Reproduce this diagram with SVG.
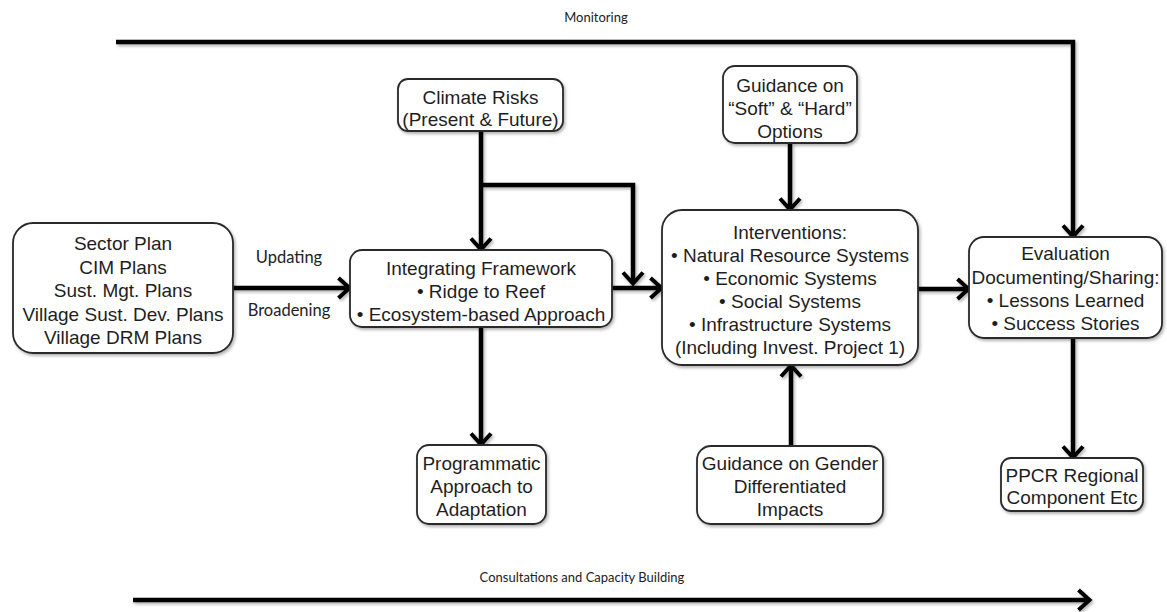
<svg xmlns="http://www.w3.org/2000/svg" width="1167" height="612" viewBox="0 0 1167 612">
<style>
.box{fill:#fff;stroke:#2a2a2a;stroke-width:1.8;filter:url(#sh)}
.t{font-family:"Liberation Sans",Arial,sans-serif;font-size:19px;fill:#1e1e1e;text-anchor:middle}
.lbl{font-family:Lato,"Liberation Sans",sans-serif;font-size:13px;fill:#222;text-anchor:middle}
.lbl2{font-family:Lato,"Liberation Sans",sans-serif;font-size:16.5px;fill:#222;text-anchor:middle}
.c{fill:none;stroke:#000;stroke-width:4.5;marker-end:url(#ah)}
</style>
<defs>
<filter id="sh" x="-10%" y="-10%" width="130%" height="140%">
<feDropShadow dx="1.5" dy="2" stdDeviation="1.5" flood-color="#000" flood-opacity="0.3"/>
</filter>
<marker id="ah" viewBox="0 0 16 24" refX="12.5" refY="12" markerWidth="16" markerHeight="24" markerUnits="userSpaceOnUse" orient="auto" overflow="visible">
<path d="M2,2 L13,12 L2,22" fill="none" stroke="#000" stroke-width="4"/>
</marker>
</defs>
<rect width="1167" height="612" fill="#fff"/>
<g id="connectors" filter="url(#sh)">
<path class="c" d="M116,42 H1073 V236"/>
<path class="c" d="M233,288 H349"/>
<path class="c" d="M481,131 V249"/>
<path class="c" d="M481,185 H633 V283"/>
<path class="c" d="M612,288 H661"/>
<path class="c" d="M790,143 V209"/>
<path class="c" d="M791,446 V366"/>
<path class="c" d="M481,327 V444"/>
<path class="c" d="M918,289 H968"/>
<path class="c" d="M1073,338 V457"/>
<path class="c" d="M133,600 H1089"/>
</g>
<g id="labels">
<text class="lbl" x="596" y="22">Monitoring</text>
<text class="lbl2" x="289" y="263">Updating</text>
<text class="lbl2" x="289" y="316">Broadening</text>
<text class="lbl" x="582" y="582">Consultations and Capacity Building</text>
</g>
<g id="sector">
<rect class="box" x="13" y="223" width="220" height="130" rx="20"/>
<text class="t" x="123" y="250">Sector Plan</text>
<text class="t" x="123" y="273.5">CIM Plans</text>
<text class="t" x="123" y="297">Sust. Mgt. Plans</text>
<text class="t" x="123" y="320.5">Village Sust. Dev. Plans</text>
<text class="t" x="123" y="344">Village DRM Plans</text>
</g>
<g id="climate">
<rect class="box" x="398" y="79" width="165" height="52" rx="10"/>
<text class="t" x="480.5" y="104">Climate Risks</text>
<text class="t" x="480.5" y="126">(Present &amp; Future)</text>
</g>
<g id="integrating">
<rect class="box" x="350" y="250" width="262" height="77" rx="12"/>
<text class="t" x="481" y="275">Integrating Framework</text>
<text class="t" x="481" y="298">• Ridge to Reef</text>
<text class="t" x="481" y="321">• Ecosystem-based Approach</text>
</g>
<g id="guidance-soft-hard">
<rect class="box" x="723" y="66" width="134" height="77" rx="12"/>
<text class="t" x="790" y="92">Guidance on</text>
<text class="t" x="790" y="115">“Soft” &amp; “Hard”</text>
<text class="t" x="790" y="138">Options</text>
</g>
<g id="interventions">
<rect class="box" x="662" y="210" width="256" height="155" rx="20"/>
<text class="t" x="790" y="239">Interventions:</text>
<text class="t" x="790" y="262">• Natural Resource Systems</text>
<text class="t" x="790" y="285">• Economic Systems</text>
<text class="t" x="790" y="308">• Social Systems</text>
<text class="t" x="790" y="331">• Infrastructure Systems</text>
<text class="t" x="790" y="354">(Including Invest. Project 1)</text>
</g>
<g id="evaluation">
<rect class="box" x="969" y="237" width="193" height="101" rx="15"/>
<text class="t" x="1065.5" y="260">Evaluation</text>
<text class="t" x="1065.5" y="284">Documenting/Sharing:</text>
<text class="t" x="1065.5" y="307">• Lessons Learned</text>
<text class="t" x="1065.5" y="330">• Success Stories</text>
</g>
<g id="programmatic">
<rect class="box" x="417" y="445" width="129" height="79" rx="12"/>
<text class="t" x="481.5" y="470">Programmatic</text>
<text class="t" x="481.5" y="493">Approach to</text>
<text class="t" x="481.5" y="516">Adaptation</text>
</g>
<g id="gender">
<rect class="box" x="697" y="446" width="186" height="78" rx="14"/>
<text class="t" x="790" y="470">Guidance on Gender</text>
<text class="t" x="790" y="493">Differentiated</text>
<text class="t" x="790" y="516">Impacts</text>
</g>
<g id="ppcr">
<rect class="box" x="1001" y="458" width="142" height="53" rx="10"/>
<text class="t" x="1072" y="482">PPCR Regional</text>
<text class="t" x="1072" y="504">Component Etc</text>
</g>
</svg>
